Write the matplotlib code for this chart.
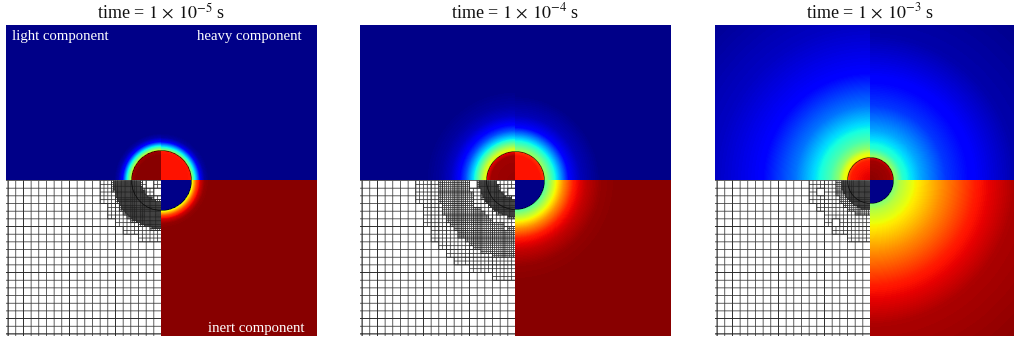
import numpy as np
from matplotlib import pyplot as plt
from matplotlib.collections import LineCollection
from matplotlib.patches import Circle

titles = ['time = $1\\,\\times\\,10^{-5}$ s',
          'time = $1\\,\\times\\,10^{-4}$ s',
          'time = $1\\,\\times\\,10^{-3}$ s']
component_labels = ['light component', 'heavy component', 'inert component']

# circle radius per panel, in pixels of the picture
drop_radius = [30, 29, 23]

# radial profiles, colour value 0..1 on the jet scale
radii_t5 = [30, 32, 35, 39, 43, 47, 160, 240]
light_t5 = [0.62, 0.50, 0.35, 0.12, 0.04, 0.01, 0.01, 0.01]
heavy_t5 = [0.55, 0.44, 0.30, 0.10, 0.03, 0.01, 0.01, 0.01]
inert_t5 = [0.60, 0.70, 0.83, 0.93, 0.98, 0.99, 0.99, 0.99]

radii_light_t4 = [29, 31, 36, 42, 50, 57, 65, 75, 89, 240]
light_t4 = [0.62, 0.62, 0.50, 0.35, 0.20, 0.11, 0.06, 0.03, 0.01, 0.01]
radii_heavy_t4 = [29, 34, 41, 54, 65, 84, 240]
heavy_t4 = [0.55, 0.47, 0.35, 0.11, 0.05, 0.01, 0.01]
radii_inert_t4 = [29, 35, 41, 48, 58, 70, 85, 100, 240]
inert_t4 = [0.45, 0.55, 0.65, 0.76, 0.88, 0.94, 0.98, 0.99, 0.99]

radii_light_t3 = [23, 27, 32, 40, 55, 75, 112, 155, 220]
light_t3 = [0.66, 0.62, 0.52, 0.44, 0.35, 0.24, 0.11, 0.06, 0.02]
radii_heavy_t3 = [23, 32, 50, 75, 105, 145, 220]
heavy_t3 = [0.55, 0.40, 0.29, 0.18, 0.11, 0.04, 0.01]
radii_inert_t3 = [23, 30, 45, 72, 105, 144, 220]
inert_t3 = [0.50, 0.57, 0.65, 0.76, 0.88, 0.96, 0.99]

# inside the circle: value at the centre and at the rim
inside_radii = [0.0, 0.85, 1.0]
inside_light = [[0.99, 0.99, 0.97], [0.98, 0.97, 0.90], [0.92, 0.88, 0.83]]
inside_heavy = [[0.89, 0.89, 0.88], [0.89, 0.89, 0.85], [0.99, 0.97, 0.93]]
inside_inert = [[0.01, 0.01, 0.01], [0.01, 0.01, 0.01], [0.01, 0.01, 0.01]]

# mesh refinement: (r inner, r outer, level)
bands_t5 = [(0, 22, 1), (22, 47, 3), (47, 58, 1)]
bands_t4 = [(0, 20, 1), (20, 35, 3), (35, 48, 1), (48, 76, 2), (76, 94, 1)]
bands_t3 = [(0, 28, 3), (28, 34, 2), (34, 58, 1)]

# unrefined gaps in the mesh, (dx, dy) left of and below the centre
holes_t5 = [(6, 14), (14, 6)]
holes_t4 = [(39, 22), (22, 38), (9, 45), (44, 5), (5, 10)]
holes_t3 = [(48, 32), (36, 44), (52, 12)]

panel_left = [6, 360, 715]
panel_size = 311
panel_top = 25
cell_size = 7.67
fig_w, fig_h = 1014, 339


def build_field(quadrants, rim, in_light, in_heavy, in_inert):
    half = panel_size / 2
    xs = (np.arange(panel_size) + 0.5) - half
    x, y = np.meshgrid(xs, xs)
    r = np.hypot(x, y)
    rel = r / rim

    field = np.full(x.shape, np.nan)
    masks = [(x < 0) & (y > 0), (x >= 0) & (y > 0), (x >= 0) & (y <= 0)]
    for mask, (radii, prof), inner in zip(masks, quadrants, [in_light, in_heavy, in_inert]):
        outside = np.interp(r, radii, prof)
        inside = np.interp(rel, inside_radii, inner)
        field[mask] = np.where(r < rim, inside, outside)[mask]
    return field


def target_level(cx, cy, size, bands, holes):
    mid_x, mid_y = cx + size / 2, cy + size / 2
    for hx, hy in holes:
        if np.hypot(mid_x - hx, mid_y - hy) < 3.5:
            return 0
    r_min, r_max = np.hypot(cx, cy), np.hypot(cx + size, cy + size)
    level = 0
    for r_in, r_out, lev in bands:
        if r_min < r_out and r_max > r_in:
            level = max(level, lev)
    return level


def mesh_segments(bands, holes):
    segs = set()

    def split(cx, cy, size, level):
        if level < target_level(cx, cy, size, bands, holes):
            s = size / 2
            for ox in (0, s):
                for oy in (0, s):
                    split(cx + ox, cy + oy, s, level + 1)
            return
        x0, x1, y0, y1 = cx, cx + size, cy, cy + size
        segs.add(((-x0, -y0), (-x1, -y0)))
        segs.add(((-x0, -y1), (-x1, -y1)))
        segs.add(((-x0, -y0), (-x0, -y1)))
        segs.add(((-x1, -y0), (-x1, -y1)))

    for i in range(21):
        for j in range(21):
            split(i * cell_size, j * cell_size, cell_size, 0)
    return list(segs)


plt.rcParams['font.family'] = ['Liberation Serif', 'DejaVu Serif']
plt.rcParams['mathtext.fontset'] = 'stix'

fig = plt.figure(figsize=(fig_w / 100, fig_h / 100), dpi=100)

panels = [([(radii_t5, light_t5), (radii_t5, heavy_t5), (radii_t5, inert_t5)], bands_t5, holes_t5),
          ([(radii_light_t4, light_t4), (radii_heavy_t4, heavy_t4), (radii_inert_t4, inert_t4)], bands_t4, holes_t4),
          ([(radii_light_t3, light_t3), (radii_heavy_t3, heavy_t3), (radii_inert_t3, inert_t3)], bands_t3, holes_t3)]

half = panel_size / 2
for i, (quadrants, bands, holes) in enumerate(panels):
    ax = fig.add_axes([panel_left[i] / fig_w, 1 - (panel_top + panel_size) / fig_h,
                       panel_size / fig_w, panel_size / fig_h])
    field = build_field(quadrants, drop_radius[i], inside_light[i], inside_heavy[i], inside_inert[i])

    mesh = LineCollection(mesh_segments(bands, holes), colors='#202020', linewidths=0.5, zorder=1)
    mesh.set_snap(False)
    ax.add_collection(mesh)
    ax.imshow(field, cmap='jet', vmin=0, vmax=1, origin='lower', interpolation='nearest',
              extent=(-half, half, -half, half), zorder=2)
    ax.add_patch(Circle((0, 0), drop_radius[i], fill=False, edgecolor='black',
                        linewidth=0.5, alpha=0.8, zorder=3))
    ax.set_xlim(-half, half)
    ax.set_ylim(-half, half)
    ax.axis('off')

    fig.text((panel_left[i] + half) / fig_w, 1 - 18 / fig_h, titles[i], ha='center',
             va='baseline', fontsize=13, color='#111111')

fig.text(12 / fig_w, 1 - 40 / fig_h, component_labels[0], color='white', fontsize=10.6, va='baseline')
fig.text(302 / fig_w, 1 - 40 / fig_h, component_labels[1], color='white', fontsize=10.6, va='baseline', ha='right')
fig.text(304 / fig_w, 1 - 332 / fig_h, component_labels[2], color='white', fontsize=10.6, va='baseline', ha='right')

fig.savefig('out.png', dpi=100)
